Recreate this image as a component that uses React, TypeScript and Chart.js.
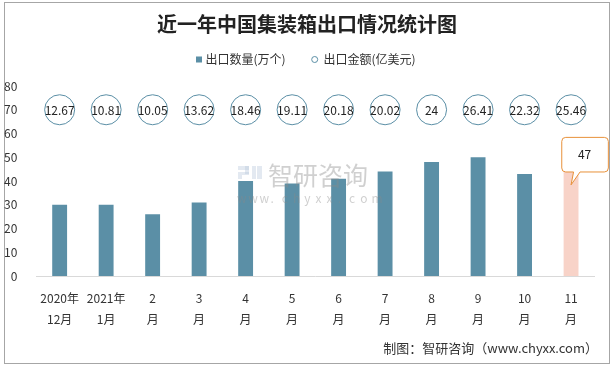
import React, { useEffect, useRef } from "react";
import { Chart, registerables } from "chart.js";

Chart.register(...registerables);

const categories: string[][] = [
  ["2020年", "12月"],
  ["2021年", "1月"],
  ["2", "月"],
  ["3", "月"],
  ["4", "月"],
  ["5", "月"],
  ["6", "月"],
  ["7", "月"],
  ["8", "月"],
  ["9", "月"],
  ["10", "月"],
  ["11", "月"],
];
const exportQty: number[] = [30, 30, 26, 31, 40, 39, 41, 44, 48, 50, 43, 47];
const exportAmount: string[] = ["12.67", "10.81", "10.05", "13.62", "18.46", "19.11", "20.18", "20.02", "24", "26.41", "22.32", "25.46"];
const amountCircleLevel: number[] = [70, 70, 70, 70, 70, 70, 70, 70, 70, 70, 70, 70];
const yTicks = { min: 0, max: 80, step: 10 };

const titleText = "近一年中国集装箱出口情况统计图";
const legendQty = "出口数量(万个)";
const legendAmt = "出口金额(亿美元)";
const footerText = "制图：智研咨询（www.chyxx.com）";

const FONT = "'Noto Sans CJK SC', 'Noto Sans', sans-serif";
const BAR = "#5b8fa6";
const PINK = "#f8d3c8";
const TEXT = "#333333";

const decorPlugin = {
  id: "decor",
  beforeDraw(chart: any) {
    const ctx = chart.ctx;
    ctx.save();
    ctx.fillStyle = "#ffffff";
    ctx.fillRect(0, 0, chart.width, chart.height);
    ctx.strokeStyle = "#a6a6a6";
    ctx.lineWidth = 1;
    ctx.strokeRect(4.5, 2.5, 605, 361);
    // title
    ctx.fillStyle = "#222222";
    ctx.font = `bold 20px ${FONT}`;
    ctx.textAlign = "center";
    ctx.textBaseline = "middle";
    ctx.fillText(titleText, 307, 24);
    // legend
    ctx.font = `12px ${FONT}`;
    ctx.textAlign = "left";
    ctx.fillStyle = BAR;
    ctx.fillRect(196, 56.5, 6, 6);
    ctx.fillStyle = TEXT;
    ctx.fillText(legendQty, 205.5, 59.5);
    ctx.beginPath();
    ctx.arc(314.7, 59.5, 3, 0, Math.PI * 2);
    ctx.strokeStyle = BAR;
    ctx.stroke();
    ctx.fillText(legendAmt, 323.5, 59.5);
    // footer
    ctx.font = `13px ${FONT}`;
    ctx.textAlign = "right";
    ctx.fillText(footerText, 598, 348);
    ctx.restore();
  },
  afterDatasetsDraw(chart: any) {
    const ctx = chart.ctx;
    ctx.save();
    // watermark
    ctx.globalAlpha = 0.4;
    ctx.fillStyle = "#b8c8dc";
    ctx.fillRect(238, 166, 11, 4);
    ctx.fillRect(245, 166, 4, 8);
    ctx.fillRect(238, 172, 11, 3);
    ctx.fillRect(238, 175, 4, 4);
    ctx.fillRect(252, 166, 4, 13);
    ctx.fillRect(257, 166, 5, 13);
    ctx.fillStyle = "#8a8a8a";
    ctx.font = `25px ${FONT}`;
    ctx.textAlign = "left";
    ctx.textBaseline = "middle";
    ctx.fillText("智研咨询", 268, 175);
    ctx.font = `12px ${FONT}`;
    const url = "www.chyxx.com";
    const step = (377 - 237) / (url.length - 0.5);
    for (let i = 0; i < url.length; i++) {
      ctx.fillText(url[i], 237 + i * step, 198);
    }
    ctx.globalAlpha = 1;

    // labels inside circles
    const lineMeta = chart.getDatasetMeta(1);
    ctx.fillStyle = "#222222";
    ctx.font = `12px ${FONT}`;
    ctx.textAlign = "center";
    ctx.textBaseline = "middle";
    lineMeta.data.forEach((pt: any, i: number) => {
      ctx.fillText(exportAmount[i], pt.x, pt.y + 0.5);
    });

    // callout on last bar
    const barMeta = chart.getDatasetMeta(0);
    const last = barMeta.data[barMeta.data.length - 1];
    const x = last.x;
    const y = last.y;
    const l = x - 9.3, r = x + 37.3, t = y - 27, b = y + 7.6, rad = 4;
    ctx.beginPath();
    ctx.moveTo(l + rad, t);
    ctx.lineTo(r - rad, t);
    ctx.quadraticCurveTo(r, t, r, t + rad);
    ctx.lineTo(r, b - rad);
    ctx.quadraticCurveTo(r, b, r - rad, b);
    ctx.lineTo(x + 9, b);
    ctx.lineTo(x, y + 20.5);
    ctx.lineTo(x + 2.5, b);
    ctx.lineTo(l + rad, b);
    ctx.quadraticCurveTo(l, b, l, b - rad);
    ctx.lineTo(l, t + rad);
    ctx.quadraticCurveTo(l, t, l + rad, t);
    ctx.closePath();
    ctx.fillStyle = "#ffffff";
    ctx.fill();
    ctx.strokeStyle = "#e8913a";
    ctx.lineWidth = 1;
    ctx.stroke();
    ctx.fillStyle = "#222222";
    ctx.fillText(String(exportQty[exportQty.length - 1]), x + 13.5, y - 9.5);
    ctx.restore();
  },
};

export default function App() {
  const ref = useRef<HTMLCanvasElement>(null);
  useEffect(() => {
    if (!ref.current) return;
    const chart = new Chart(ref.current, {
      type: "bar",
      data: {
        labels: categories as any,
        datasets: [
          {
            type: "bar",
            label: legendQty,
            data: exportQty,
            backgroundColor: exportQty.map((_, i) => (i === exportQty.length - 1 ? PINK : BAR)),
            barPercentage: 0.32,
            categoryPercentage: 1,
            order: 2,
          } as any,
          {
            type: "line",
            label: legendAmt,
            data: amountCircleLevel,
            showLine: false,
            pointRadius: 15,
            pointHoverRadius: 15,
            pointBackgroundColor: "#ffffff",
            pointBorderColor: BAR,
            pointBorderWidth: 1,
            order: 1,
          } as any,
        ],
      },
      options: {
        responsive: false,
        animation: false,
        devicePixelRatio: 1,
        layout: { padding: { top: 86, left: 0, right: 19.7, bottom: 0 } },
        plugins: {
          legend: { display: false },
          title: { display: false },
          tooltip: { enabled: false },
        },
        scales: {
          x: {
            grid: { display: false },
            border: { display: true, color: "#d9d9d9", width: 1 },
            ticks: {
              color: TEXT,
              font: { size: 12, family: FONT, lineHeight: 1.75 },
              maxRotation: 0,
              autoSkip: false,
              padding: 4,
            },
            afterFit: (s: any) => {
              s.height = 92;
            },
          },
          y: {
            min: yTicks.min,
            max: yTicks.max,
            grid: { display: false },
            border: { display: false },
            ticks: {
              stepSize: yTicks.step,
              color: TEXT,
              font: { size: 12, family: FONT },
              padding: 11,
            },
            afterFit: (s: any) => {
              s.width = 36.4;
            },
          },
        },
      },
      plugins: [decorPlugin],
    });
    return () => chart.destroy();
  }, []);
  return (
    <div style={{ position: "fixed", left: 0, top: 0, width: 614, height: 368 }}>
      <canvas ref={ref} width={614} height={368} />
    </div>
  );
}
